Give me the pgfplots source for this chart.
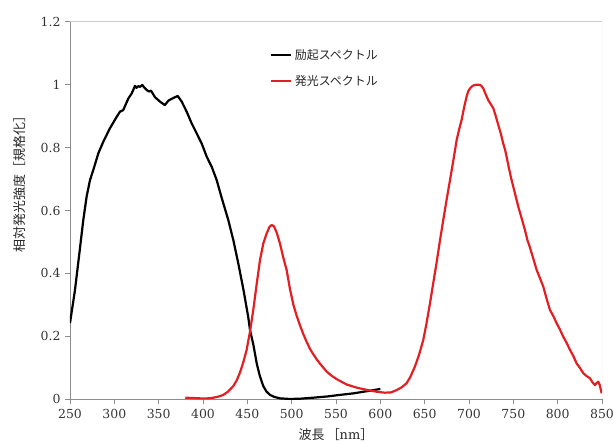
\documentclass[border=0pt]{standalone}
\usepackage{fontspec}
\setmainfont{DejaVu Serif}
\newfontfamily\jp{Noto Sans CJK JP}
\usepackage{pgfplots}
\pgfplotsset{compat=1.18}

\definecolor{emired}{RGB}{226,32,36}
\definecolor{axisgray}{RGB}{140,140,140}
\definecolor{framegray}{RGB}{205,205,205}

% excitation spectrum (normalised)
\pgfplotstableread{
x y
250 0.242
255.6 0.347
261 0.474
265 0.57
268.8 0.645
272.6 0.697
276.3 0.729
282 0.782
287.6 0.819
295 0.861
302.7 0.898
306.4 0.914
310 0.919
315.8 0.956
319.6 0.972
323.3 0.996
325 0.990
327 0.995
329 0.993
331.5 0.999
334 0.990
336.5 0.983
339 0.978
341.3 0.981
345.9 0.960
351.5 0.946
357 0.935
360.9 0.949
365.4 0.956
371.5 0.964
376 0.946
381.6 0.914
387.2 0.877
392.9 0.845
398.5 0.813
404.2 0.771
409.8 0.739
415.4 0.697
421.1 0.640
428.5 0.57
434.2 0.506
439.8 0.432
445.5 0.350
451 0.262
453 0.22
456.7 0.175
460.6 0.114
464 0.075
468 0.042
471.5 0.025
475.6 0.014
480 0.008
486.8 0.003
498 0.001
510 0.002
524 0.005
540 0.009
554.5 0.014
570 0.019
580.8 0.024
590 0.028
600 0.033
}\excitation

% emission spectrum (normalised)
\pgfplotstableread{
x y
380 0.005
390 0.004
396.6 0.003
405 0.003
411.6 0.005
418 0.009
422.9 0.014
428 0.024
434.2 0.042
438 0.06
441.7 0.085
445.5 0.118
449.2 0.157
453 0.215
456.7 0.284
460.5 0.365
464.3 0.443
468 0.495
471.8 0.527
475 0.548
477.5 0.554
480 0.550
483.1 0.530
486.8 0.495
490.6 0.450
494.4 0.410
498.1 0.350
502 0.30
505.7 0.265
509.4 0.235
513 0.208
517 0.182
520.7 0.160
524.4 0.143
528 0.128
532 0.113
539.5 0.088
545 0.075
550.8 0.064
562 0.047
573.4 0.037
584.6 0.030
596 0.024
605 0.021
612 0.022
618.2 0.029
624 0.038
629.6 0.051
634 0.072
639 0.104
643.5 0.14
648.4 0.188
652 0.24
656 0.305
660 0.375
663.5 0.435
667 0.50
671 0.57
674.8 0.635
678.6 0.697
682.4 0.760
686.1 0.824
688.9 0.858
691.7 0.888
694.5 0.928
697.3 0.962
699 0.978
701.1 0.988
704 0.996
706.7 0.999
709 1.0
712.4 0.999
714 0.996
716.1 0.988
719 0.968
721.7 0.951
724.5 0.938
727.4 0.925
730.2 0.900
733 0.872
735.8 0.845
738.6 0.813
740.5 0.795
742.4 0.771
745 0.735
748 0.697
751.8 0.655
755.6 0.612
759.4 0.575
763.1 0.538
766 0.505
768.8 0.482
772 0.452
776.3 0.411
780 0.385
783.8 0.358
787.5 0.32
791.3 0.284
795 0.265
798.8 0.242
802.5 0.222
806.3 0.199
810 0.180
813.9 0.157
817.6 0.138
821.4 0.114
825 0.100
828.9 0.083
832.5 0.074
836.4 0.067
839 0.055
842 0.045
844 0.052
845.8 0.056
847.5 0.045
849.6 0.019
}\emission

\begin{document}
\begin{tikzpicture}
\begin{axis}[
  at={(0,0)}, anchor=south west,
  width=532bp, height=377.6bp, scale only axis,
  xmin=250, xmax=850, ymin=0, ymax=1.2,
  xtick={250,300,...,850},
  ytick={0,0.2,0.4,0.6,0.8,1,1.2},
  axis x line*=bottom, axis y line*=left,
  axis line style={-, draw=axisgray, line width=0.7bp},
  tick style={draw=axisgray, line width=0.7bp},
  tick align=outside, major tick length=5bp,
  /pgf/number format/assume math mode=true,
  /pgf/number format/fixed,
  ticklabel style={font=\fontsize{12.5}{14}\selectfont, text=black!80},
  xticklabel style={yshift=-1bp},
  yticklabel style={xshift=-1bp},
  xlabel={{\jp 波長\,［}nm{\jp ］}},
  xlabel style={at={(axis description cs:0.5,0)}, anchor=center, yshift=-35.5bp,
    font=\fontsize{13}{15}\selectfont, text=black!85},
  ylabel={\jp 相対発光強度［規格化］},
  ylabel style={at={(axis description cs:0,0.578)}, anchor=center, yshift=50bp,
    font=\fontsize{13}{15}\selectfont, text=black!85},
  legend image code/.code={\draw[#1] (0bp,0bp) -- (20bp,0bp);},
  legend cell align=left,
  legend style={draw=none, fill=none, at={(axis description cs:0.376,0.877)},
    anchor=west, inner sep=0pt, row sep=9bp,
    font=\jp\fontsize{12}{14}\selectfont,
    nodes={inner sep=2.5bp, text=black!85}},
]
\draw[framegray, line width=0.7bp] (rel axis cs:0,1) -- (rel axis cs:1,1) -- (rel axis cs:1,0);
\addplot[black, line width=2.2bp, line join=round] table[x=x, y=y] {\excitation};
\addlegendentry{励起スペクトル}
\addplot[emired, line width=2.2bp, line join=round] table[x=x, y=y] {\emission};
\addlegendentry{発光スペクトル}
\end{axis}
\pgfresetboundingbox
\path[use as bounding box] (-70bp,-44.7bp) rectangle (544bp,399.3bp);
\end{tikzpicture}
\end{document}
